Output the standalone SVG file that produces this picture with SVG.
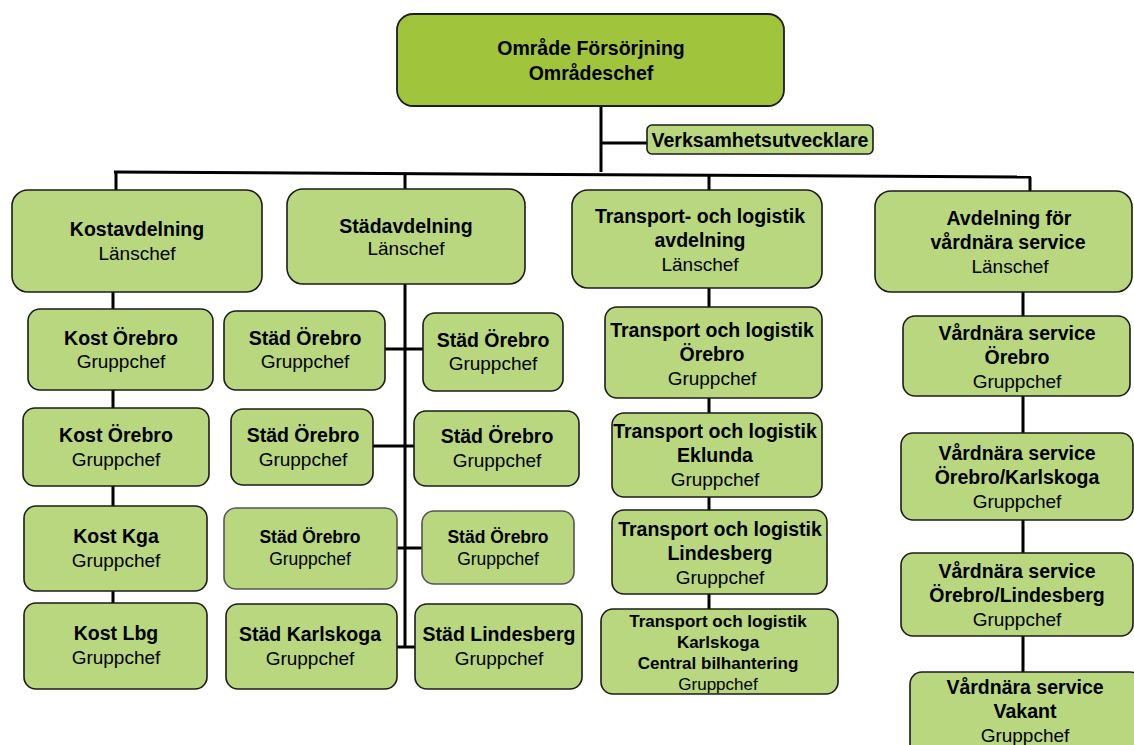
<svg xmlns="http://www.w3.org/2000/svg" width="1134" height="745" viewBox="0 0 1134 745">
<style>
.n{fill:#b9d77e;stroke:#1c1c1c;stroke-width:1.6}
.top{fill:#a0c43b;stroke:#1c1c1c;stroke-width:1.8}
.lt{stroke:#555}
text{font-family:"Liberation Sans",Arial,sans-serif;text-anchor:middle;fill:#000}
.b{font-weight:bold;font-size:19.5px}
.r{font-size:19px}
.bs{font-weight:bold;font-size:17.5px}
.rs{font-size:17.5px}
.bx{font-weight:bold;font-size:17px}
.rx{font-size:17px}
.c{stroke:#000;stroke-width:3;fill:none}
</style>
<g id="connectors">
<line class="c" x1="601" y1="106" x2="601" y2="172"/>
<line class="c" x1="601" y1="143" x2="648" y2="143"/>
<line class="c" x1="114" y1="172" x2="1031" y2="177"/>
<line class="c" x1="116" y1="172" x2="116" y2="191"/>
<line class="c" x1="405" y1="173" x2="405" y2="190"/>
<line class="c" x1="709" y1="175" x2="709" y2="191"/>
<line class="c" x1="1030" y1="177" x2="1030" y2="192"/>
<line class="c" x1="113" y1="292" x2="113" y2="604"/>
<line class="c" x1="405" y1="284" x2="405" y2="648"/>
<line class="c" x1="385" y1="349" x2="423" y2="349"/>
<line class="c" x1="373" y1="446" x2="414" y2="446"/>
<line class="c" x1="397" y1="548" x2="422" y2="548"/>
<line class="c" x1="397" y1="647" x2="415" y2="647"/>
<line class="c" x1="709" y1="288" x2="709" y2="610"/>
<line class="c" x1="1023" y1="292" x2="1023" y2="673"/>
</g>
<g id="n-top"><rect class="top" x="397" y="14" width="387" height="92" rx="16"/><text class="b" x="591" y="55">Område Försörjning</text><text class="b" x="591" y="80">Områdeschef</text></g>
<g id="n-verk"><rect class="n" x="647" y="125" width="226" height="29" rx="5"/><text class="b" x="760" y="147">Verksamhetsutvecklare</text></g>
<g id="n-kost"><rect class="n" x="12" y="190" width="250" height="102" rx="16"/><text class="b" x="137" y="236">Kostavdelning</text><text class="r" x="137" y="260">Länschef</text></g>
<g id="n-stad"><rect class="n" x="287" y="189" width="238" height="95" rx="16"/><text class="b" x="406" y="233">Städavdelning</text><text class="r" x="406" y="255">Länschef</text></g>
<g id="n-trans"><rect class="n" x="572" y="190" width="250" height="98" rx="16"/><text class="b" x="700" y="223">Transport- och logistik</text><text class="b" x="700" y="247">avdelning</text><text class="r" x="700" y="271">Länschef</text></g>
<g id="n-vard"><rect class="n" x="875" y="191" width="257" height="101" rx="16"/><text class="b" x="1009" y="225">Avdelning för</text><text class="b" x="1008" y="249">vårdnära service</text><text class="r" x="1010" y="273">Länschef</text></g>
<g id="n-kost1"><rect class="n" x="28" y="309" width="185" height="81" rx="12"/><text class="b" x="121" y="345">Kost Örebro</text><text class="r" x="121" y="368">Gruppchef</text></g>
<g id="n-kost2"><rect class="n" x="23" y="408" width="186" height="78" rx="12"/><text class="b" x="116" y="442">Kost Örebro</text><text class="r" x="116" y="466">Gruppchef</text></g>
<g id="n-kost3"><rect class="n" x="24" y="506" width="183" height="85" rx="12"/><text class="b" x="116" y="543">Kost Kga</text><text class="r" x="116" y="567">Gruppchef</text></g>
<g id="n-kost4"><rect class="n" x="24" y="603" width="183" height="86" rx="12"/><text class="b" x="116" y="640">Kost Lbg</text><text class="r" x="116" y="664">Gruppchef</text></g>
<g id="n-stad1l"><rect class="n" x="224" y="311" width="161" height="79" rx="12"/><text class="b" x="305" y="345">Städ Örebro</text><text class="r" x="305" y="368">Gruppchef</text></g>
<g id="n-stad1r"><rect class="n" x="423" y="313" width="140" height="78" rx="12"/><text class="b" x="493" y="347">Städ Örebro</text><text class="r" x="493" y="370">Gruppchef</text></g>
<g id="n-stad2l"><rect class="n" x="231" y="409" width="142" height="76" rx="12"/><text class="b" x="303" y="442">Städ Örebro</text><text class="r" x="303" y="466">Gruppchef</text></g>
<g id="n-stad2r"><rect class="n" x="414" y="411" width="165" height="75" rx="12"/><text class="b" x="497" y="443">Städ Örebro</text><text class="r" x="497" y="467">Gruppchef</text></g>
<g id="n-stad3l"><rect class="n lt" x="224" y="508" width="173" height="81" rx="12"/><text class="bs" x="310" y="543">Städ Örebro</text><text class="rs" x="310" y="565">Gruppchef</text></g>
<g id="n-stad3r"><rect class="n lt" x="422" y="511" width="152" height="73" rx="12"/><text class="bs" x="498" y="543">Städ Örebro</text><text class="rs" x="498" y="565">Gruppchef</text></g>
<g id="n-stad4l"><rect class="n" x="226" y="604" width="171" height="85" rx="12"/><text class="b" x="310" y="641">Städ Karlskoga</text><text class="r" x="310" y="665">Gruppchef</text></g>
<g id="n-stad4r"><rect class="n" x="415" y="604" width="167" height="85" rx="12"/><text class="b" x="499" y="641">Städ Lindesberg</text><text class="r" x="499" y="665">Gruppchef</text></g>
<g id="n-tl1"><rect class="n" x="605" y="307" width="217" height="91" rx="12"/><text class="b" x="712" y="337">Transport och logistik</text><text class="b" x="712" y="361">Örebro</text><text class="r" x="712" y="385">Gruppchef</text></g>
<g id="n-tl2"><rect class="n" x="612" y="413" width="210" height="84" rx="12"/><text class="b" x="715" y="438">Transport och logistik</text><text class="b" x="715" y="462">Eklunda</text><text class="r" x="715" y="486">Gruppchef</text></g>
<g id="n-tl3"><rect class="n" x="612" y="510" width="215" height="84" rx="12"/><text class="b" x="720" y="536">Transport och logistik</text><text class="b" x="720" y="560">Lindesberg</text><text class="r" x="720" y="584">Gruppchef</text></g>
<g id="n-tl4"><rect class="n" x="601" y="609" width="237" height="85" rx="12"/><text class="bx" x="718" y="627">Transport och logistik</text><text class="bx" x="718" y="648">Karlskoga</text><text class="bx" x="718" y="669">Central bilhantering</text><text class="rx" x="718" y="690">Gruppchef</text></g>
<g id="n-vs1"><rect class="n" x="903" y="316" width="227" height="80" rx="12"/><text class="b" x="1017" y="340">Vårdnära service</text><text class="b" x="1017" y="364">Örebro</text><text class="r" x="1017" y="388">Gruppchef</text></g>
<g id="n-vs2"><rect class="n" x="901" y="433" width="232" height="87" rx="12"/><text class="b" x="1017" y="460">Vårdnära service</text><text class="b" x="1017" y="484">Örebro/Karlskoga</text><text class="r" x="1017" y="508">Gruppchef</text></g>
<g id="n-vs3"><rect class="n" x="901" y="553" width="232" height="83" rx="12"/><text class="b" x="1017" y="578">Vårdnära service</text><text class="b" x="1017" y="602">Örebro/Lindesberg</text><text class="r" x="1017" y="626">Gruppchef</text></g>
<g id="n-vs4"><rect class="n" x="910" y="672" width="232" height="90" rx="12"/><text class="b" x="1025" y="694">Vårdnära service</text><text class="b" x="1025" y="718">Vakant</text><text class="r" x="1025" y="742">Gruppchef</text></g>
</svg>
